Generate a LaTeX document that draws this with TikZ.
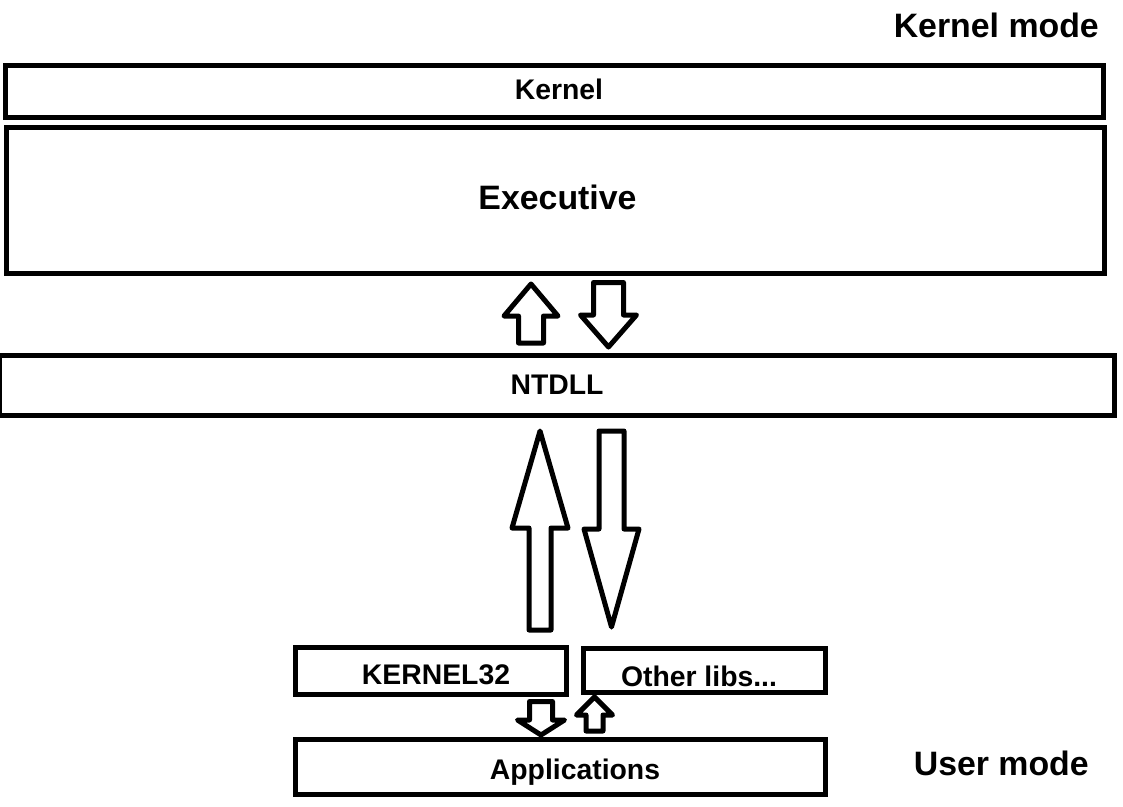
\documentclass[tikz,border=0pt]{standalone}
\usepackage{fontspec}
\setmainfont{Liberation Sans}
\usepackage{tikz}
\usetikzlibrary{calc,positioning}

% hollow block arrow: x, tip y, head base y, tail y, half shaft, half head
\newcommand{\blockarrow}[6]{%
	\draw[arrowline] ({#1-#5},#4) -- ({#1-#5},#3) -- ({#1-#6},#3) -- (#1,#2)
		-- ({#1+#6},#3) -- ({#1+#5},#3) -- ({#1+#5},#4) -- cycle;}

\begin{document}
\begin{tikzpicture}[x=0.03cm, y=-0.03cm,
		layer/.style={draw, line width=0.15cm, inner sep=0pt, outer sep=0pt},
		arrowline/.style={line width=0.15cm, line join=round},
		txt/.style={inner sep=0pt, font=\fontsize{24.2pt}{29pt}\selectfont\bfseries, text height=17.3pt, text depth=0pt},
		bigtxt/.style={inner sep=0pt, font=\fontsize{28.9pt}{34pt}\selectfont\bfseries, text height=20.7pt, text depth=0pt}]
		\useasboundingbox (0,0) rectangle (1123,806);
		% Draw the layers
		\node[layer, minimum width=32.94cm, minimum height=1.539cm] (kernel) at (554.5,91.35) {};
		\node[layer, minimum width=32.925cm, minimum height=4.38cm] (exec) at (555.25,200.5) {};
		\node[layer, minimum width=33.435cm, minimum height=1.779cm] (ntdll) at (556.75,385.35) {};
		\node[layer, minimum width=8.115cm, minimum height=1.395cm] (k32) at (430.75,670.75) {};
		\node[layer, minimum width=7.26cm, minimum height=1.32cm] (libs) at (704.5,670) {};
		\node[layer, minimum width=15.885cm, minimum height=1.635cm] (apps) at (560.25,766.75) {};
		% Layer names
		\node[txt] (kernellbl) at (559,89.2) {Kernel};
		\node[bigtxt] (execlbl) at (557.5,197.5) {Executive};
		\node[txt] (ntdlllbl) at (557,384) {NTDLL};
		\node[txt] (k32lbl) at (436,674.5) {KERNEL32};
		\node[txt] (libslbl) at (699,676) {Other libs...};
		\node[txt] (appslbl) at (575,769.3) {Applications};
		% Mode labels
		\node[bigtxt] (kmode) at (996.3,25.3) {Kernel mode};
		\node[bigtxt] (umode) at (1001.3,763.2) {User mode};
		% Calls between NTDLL and Executive
		\blockarrow{531}{284}{316}{343}{12.5}{27}
		\blockarrow{608.5}{347}{315}{282.5}{15}{28}
		% Calls between libraries and NTDLL
		\blockarrow{540}{431}{528}{630}{11}{28}
		\blockarrow{611.5}{627}{529}{431}{12.5}{27.5}
		% Calls between applications and libraries
		\blockarrow{541}{735}{720}{701.5}{11.5}{23.5}
		\blockarrow{594.5}{697}{715}{731}{8.5}{18}
	\end{tikzpicture}
\end{document}
